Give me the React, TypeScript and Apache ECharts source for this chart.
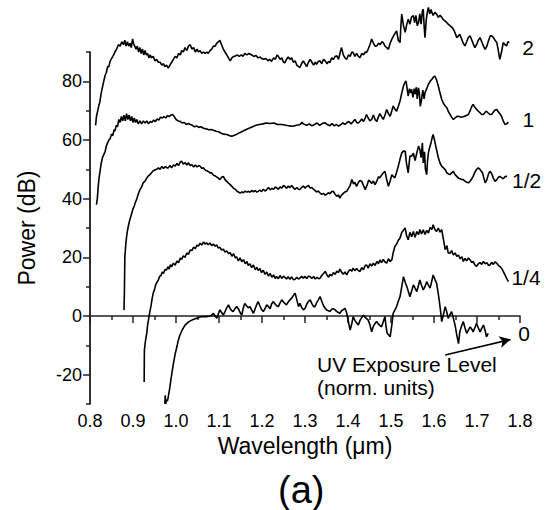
import React, { useEffect, useRef } from "react";
import * as echarts from "echarts";

const FONT = "'Liberation Sans', Arial, Helvetica, sans-serif";

const xTicks = { min: 0.8, max: 1.8, step: 0.1 };
const yMajorTicks = [-20, 0, 20, 40, 60, 80];
const yMinorTicks = [-30, -10, 10, 30, 50, 70, 90];

const seriesNames = ["2", "1", "1/2", "1/4", "0"];

const curve2: number[][] = [
  [0.813,65],[0.815,68],[0.818,70],[0.821,72],[0.823,73],[0.826,76],[0.829,78],[0.832,80],[0.835,82],[0.838,83],[0.841,85],[0.844,85],[0.847,87],[0.851,88],[0.855,89],[0.858,90],[0.862,91],[0.866,92.5],[0.870,92],[0.874,93.5],[0.878,92.5],[0.881,94],[0.884,92],[0.887,93.5],[0.890,92],[0.893,93],[0.896,91.5],[0.899,94.5],[0.901,93],[0.904,92],[0.907,91],[0.910,92],[0.913,90],[0.916,91.5],[0.919,89.5],[0.922,91],[0.925,89],[0.928,90.5],[0.931,89],[0.934,89.5],[0.937,88],[0.940,89],[0.943,88],[0.947,88.5],[0.951,87],[0.955,87.5],[0.959,86.5],[0.963,86.5],[0.967,85.5],[0.971,86],[0.974,85],[0.978,85.5],[0.982,84.5],[0.986,85.5],[0.990,86.5],[0.994,87.5],[0.998,88.5],[1.002,88],[1.006,89.5],[1.010,89],[1.013,90.5],[1.017,90],[1.021,91.5],[1.025,90.5],[1.029,92],[1.033,92.5],[1.037,91],[1.041,91.5],[1.045,90],[1.049,91],[1.052,90],[1.056,90.5],[1.060,89.5],[1.064,90],[1.068,89.5],[1.072,90],[1.075,89.5],[1.079,90.5],[1.083,91],[1.087,92],[1.091,92],[1.095,93],[1.099,93.5],[1.102,94],[1.106,92.5],[1.110,91],[1.114,90],[1.118,89],[1.122,88],[1.126,87],[1.130,88],[1.134,88.5],[1.137,88.5],[1.142,89],[1.147,88.5],[1.152,89],[1.156,88.5],[1.160,89.5],[1.165,89],[1.170,89.5],[1.176,89],[1.181,88.5],[1.186,88.8],[1.191,88],[1.196,88.3],[1.199,87.8],[1.204,87.5],[1.209,87.8],[1.214,87],[1.218,87.5],[1.222,86.8],[1.227,88],[1.231,87.5],[1.235,89],[1.238,88.5],[1.242,87.5],[1.246,88],[1.250,86.5],[1.253,86.3],[1.257,87.5],[1.261,88.3],[1.265,87.5],[1.269,88],[1.273,86.5],[1.277,87],[1.281,85.5],[1.285,85],[1.288,84.7],[1.292,86],[1.296,87],
  [1.300,86],[1.304,85],[1.308,86.5],[1.312,87.5],[1.316,86.5],[1.320,85.5],[1.324,86.5],[1.327,85.8],[1.331,86.8],[1.335,87],[1.339,86],[1.343,87.5],[1.347,87],[1.351,86],[1.355,86.8],[1.358,86.4],[1.362,88],[1.366,87.5],[1.370,88.5],[1.374,88.7],[1.378,87.5],[1.382,90],[1.385,91.5],[1.389,89],[1.393,88],[1.397,87.5],[1.401,89],[1.405,88.5],[1.409,90],[1.412,89.8],[1.416,88.5],[1.420,89.5],[1.424,88.5],[1.428,88.1],[1.432,89.5],[1.436,89],[1.440,90],[1.443,89.8],[1.447,91],[1.451,92.5],[1.455,94.4],[1.459,93],[1.463,92],[1.467,92.1],[1.471,93],[1.475,92.5],[1.479,93.5],[1.482,93.2],[1.486,92],[1.490,91.5],[1.494,90.9],[1.498,93],[1.502,94.4],[1.506,95.5],[1.510,96.5],[1.513,97.2],[1.517,94],[1.521,93.2],[1.523,99],[1.525,102.9],[1.529,99],[1.533,96.7],[1.536,99],[1.540,101.2],[1.544,99.5],[1.548,102],[1.552,102.4],[1.555,100],[1.558,102.5],[1.561,99],[1.564,100],[1.567,103],[1.570,99.5],[1.573,104],[1.575,104.6],[1.577,99],[1.579,94.9],[1.582,101],[1.585,104],[1.587,105.2],[1.590,103],[1.593,104.5],[1.595,103.5],[1.598,102.5],[1.602,103.5],[1.606,102.9],[1.610,101.8],[1.614,102.5],[1.618,101.8],[1.622,101],[1.626,100.5],[1.630,100],[1.633,99.5],[1.637,99],[1.641,98.5],[1.645,97.8],[1.649,96.5],[1.653,94.9],[1.657,95.5],[1.660,96],[1.664,94.5],[1.668,93],[1.672,92.1],[1.676,93.5],[1.680,95],[1.684,95.5],[1.688,94],[1.692,92.5],[1.695,91.5],[1.699,92.5],[1.703,94],[1.707,94.9],[1.711,93.5],[1.715,92],[1.719,90.9],[1.723,92],[1.727,94],[1.731,95.5],[1.734,95.5],[1.738,95],[1.742,94],[1.746,93.2],[1.749,91],[1.753,87.5],[1.757,90],[1.761,93.2],[1.765,92.5],[1.769,92.1],[1.772,93.5],[1.775,93.2]
];

const curve1: number[][] = [
  [0.815,38],[0.817,40],[0.819,44],[0.821,47],[0.823,49],[0.826,52],[0.829,54],[0.832,55],[0.835,56],[0.838,58],[0.841,59],[0.844,60],[0.847,60.5],[0.850,62],[0.853,61.5],[0.856,63.5],[0.858,63],[0.861,65],[0.864,64.5],[0.867,67],[0.870,66],[0.873,68],[0.876,66.5],[0.879,68.5],[0.882,66.5],[0.885,69],[0.888,67],[0.891,68.5],[0.894,66.5],[0.897,68],[0.900,66],[0.903,67.5],[0.906,66],[0.909,67],[0.912,65.5],[0.916,66.5],[0.920,65.5],[0.924,66.5],[0.928,65.8],[0.932,66.5],[0.936,65.5],[0.940,66.3],[0.944,66],[0.948,66.8],[0.952,66.3],[0.956,67.2],[0.960,66.8],[0.964,67.8],[0.968,67.5],[0.972,68],[0.976,67.5],[0.980,68.3],[0.984,68],[0.988,68.5],[0.992,68.7],[0.996,68],[1.000,67],[1.005,66.5],[1.009,66.4],[1.014,65.8],[1.019,66],[1.024,65.3],[1.029,65.6],[1.033,65.3],[1.038,65],[1.043,64.5],[1.048,64.8],[1.053,64.3],[1.058,64.5],[1.064,64],[1.070,63.8],[1.076,63.5],[1.082,63.6],[1.087,63.3],[1.093,63],[1.099,62.8],[1.105,62.3],[1.111,62],[1.118,61.9],[1.124,61.5],[1.130,61.3],[1.136,61.6],[1.142,62],[1.148,62.5],[1.155,63],[1.162,63.5],[1.170,64],[1.178,64.5],[1.186,65],[1.194,65.3],[1.202,65.5],[1.210,65.8],[1.219,65.6],[1.228,65.8],[1.236,65.3],[1.246,65.3],[1.256,65],[1.264,64.8],[1.272,64.7],[1.280,65],[1.288,65.2],[1.293,66],[1.296,65.5],[1.304,65],[1.310,65.5],[1.316,64.8],[1.322,65.3],[1.328,65.8],[1.334,65],[1.340,65.6],[1.346,65.9],[1.352,65.2],[1.358,64.9],[1.363,65.6],[1.368,64.8],[1.373,65.3],[1.378,64.7],[1.383,65.2],[1.388,65.8],[1.393,65.3],[1.397,65.9],[1.402,66.3],[1.407,65.5],[1.412,66.3],[1.416,67],[1.420,66],[1.424,65.8],[1.428,66.4],[1.432,67.2],[1.436,66.3],[1.440,67.5],[1.443,68.7],[1.447,67.5],[1.451,66.5],[1.455,67],[1.459,68.5],[1.463,67],[1.467,66.3],[1.470,67.6],[1.474,69],[1.478,68],[1.482,67],[1.486,68.5],[1.490,70.4],[1.494,69],[1.498,68.1],[1.502,70],[1.505,71.6],[1.509,70.5],[1.513,69.8],[1.517,71.5],[1.521,73.3],[1.525,76],[1.529,78.4],[1.532,79.5],[1.535,80.1],[1.538,77],[1.540,75],[1.543,77.5],[1.546,76],[1.548,77.3],[1.551,74.5],[1.554,77.5],[1.556,75.6],[1.559,78],[1.561,74],[1.564,77.8],[1.566,76],[1.568,71.5],[1.571,73.8],[1.574,77],[1.577,74],[1.579,76.1],[1.583,77.5],[1.587,79],[1.591,80],[1.595,80.7],[1.599,81.5],[1.602,81.8],[1.606,80.5],[1.610,78.4],[1.614,76],[1.618,73.8],[1.622,72.5],[1.626,71.6],[1.630,71],[1.633,69.8],[1.637,68.8],[1.641,67.8],[1.645,67],[1.649,67.5],[1.653,68],[1.657,68.1],[1.662,67.8],[1.668,67.9],[1.674,68.3],[1.680,68.7],[1.684,70],[1.688,71.5],[1.691,72.1],[1.695,71.2],[1.699,70.5],[1.703,69.8],[1.707,69.3],[1.711,68.7],[1.715,68.7],[1.719,69.5],[1.722,69.8],[1.726,69.2],[1.730,68.7],[1.734,68.7],[1.738,69.5],[1.742,70.2],[1.746,70.4],[1.750,69.5],[1.754,68.8],[1.757,68.1],[1.761,66.5],[1.765,65.3],[1.769,65.5],[1.773,66.1]
];

const curveHalf: number[][] = [
  [0.879,2],[0.880,8],[0.8805,14],[0.881,20],[0.883,24],[0.885,27],[0.887,29],[0.889,30.5],[0.892,32.5],[0.895,34],[0.897,35],[0.900,36.5],[0.903,37.5],[0.905,38.5],[0.909,40],[0.912,41.5],[0.916,43],[0.920,44],[0.924,45.5],[0.928,46],[0.932,47],[0.936,47.8],[0.940,48.3],[0.943,48.8],[0.947,49.5],[0.951,49.8],[0.955,50],[0.959,50.5],[0.963,50],[0.967,51],[0.971,50.3],[0.975,51],[0.979,50.5],[0.982,50.5],[0.986,51.3],[0.990,50.5],[0.994,51.5],[0.998,51.1],[1.002,52],[1.006,51.3],[1.010,52.5],[1.013,52.8],[1.017,51.8],[1.021,52.3],[1.025,51.5],[1.029,52.2],[1.033,51.3],[1.037,51.6],[1.041,50.8],[1.045,51.5],[1.049,50.8],[1.053,51.3],[1.056,51.1],[1.060,50.3],[1.064,50.5],[1.067,49.9],[1.071,49.5],[1.075,49.3],[1.079,48.8],[1.083,48.8],[1.087,48],[1.091,47.8],[1.095,47.3],[1.098,47.1],[1.102,46.5],[1.106,47.3],[1.110,47.6],[1.114,46.5],[1.118,45.9],[1.122,45.3],[1.126,44.8],[1.130,44.2],[1.134,43.5],[1.138,43.2],[1.142,42.5],[1.146,42.2],[1.149,41.9],[1.153,42.3],[1.157,42],[1.161,42.6],[1.165,42.2],[1.168,42.5],[1.172,42.2],[1.176,42.8],[1.180,42.3],[1.184,42.8],[1.188,42.2],[1.191,42.5],[1.195,42.9],[1.199,42.4],[1.203,43.2],[1.207,42.6],[1.211,43.1],[1.215,43.8],[1.219,43],[1.223,43.5],[1.227,43.2],[1.231,44],[1.234,43.7],[1.238,43.2],[1.242,44],[1.246,43.6],[1.250,44.5],[1.253,44.2],[1.257,43.5],[1.261,44.3],[1.265,43.8],[1.269,44.5],[1.273,43.7],[1.277,43.2],[1.281,43.8],[1.285,43.2],[1.288,43.1],[1.292,43.8],[1.296,44.3],[1.300,43.6],[1.304,44.2],[1.308,44.5],[1.312,43.6],[1.316,43.8],[1.319,43.3],[1.323,42.8],[1.327,42.3],[1.331,42.6],[1.335,41.9],[1.339,41.5],[1.343,41.8],[1.347,41.2],[1.350,41.4],[1.354,42],[1.358,41.7],[1.362,42.4],[1.366,42.5],[1.370,41.5],[1.374,40.8],[1.378,41.3],[1.381,40.2],[1.385,41.2],[1.389,41.8],[1.393,42.3],[1.397,42.5],[1.401,43.5],[1.405,44.5],[1.409,46.5],[1.413,45],[1.416,45.6],[1.420,44.2],[1.424,45.5],[1.428,46.2],[1.432,45.9],[1.436,44.5],[1.440,43.1],[1.444,44.5],[1.448,46.3],[1.451,45.9],[1.455,45.2],[1.459,46],[1.463,44.8],[1.467,46],[1.471,47.5],[1.474,47.1],[1.478,48],[1.482,48.8],[1.486,49.3],[1.490,46.5],[1.494,44.2],[1.498,46],[1.502,48.2],[1.505,47.6],[1.509,47.1],[1.513,49],[1.517,51.1],[1.521,53.5],[1.525,55.6],[1.529,56.2],[1.533,56.2],[1.536,52],[1.540,48.8],[1.544,54.5],[1.548,54.5],[1.552,55.5],[1.556,53],[1.560,55.6],[1.564,57.9],[1.567,56.8],[1.570,54],[1.573,59],[1.575,52.2],[1.578,56],[1.580,50],[1.583,48.2],[1.585,53],[1.587,55.6],[1.590,57.5],[1.593,59],[1.596,61],[1.598,61.9],[1.601,60],[1.604,58],[1.607,56],[1.610,54],[1.614,52.2],[1.618,51],[1.622,50.5],[1.626,49.9],[1.630,48.8],[1.633,48.5],[1.637,48.2],[1.641,48.8],[1.645,49.3],[1.649,48.2],[1.653,47.6],[1.657,47],[1.661,46.8],[1.665,46.5],[1.668,46.5],[1.672,46],[1.676,45.6],[1.680,45.4],[1.684,46],[1.688,46.8],[1.691,47.6],[1.695,49],[1.699,50],[1.703,50.5],[1.707,50],[1.710,49.3],[1.713,48.8],[1.716,47],[1.719,45.4],[1.723,46.5],[1.727,48.5],[1.730,49.3],[1.734,48.6],[1.738,47],[1.742,45.9],[1.746,46.5],[1.750,47.3],[1.753,47.6],[1.757,47.2],[1.761,46.8],[1.765,47.5],[1.770,47.6]
];

const curveQuarter: number[][] = [
  [0.926,-22.5],[0.9262,-17],[0.9265,-11.6],[0.929,-8.5],[0.932,-5.9],[0.934,-3],[0.937,-0.5],[0.940,2.1],[0.942,3.5],[0.944,5.5],[0.947,7.8],[0.950,9],[0.953,10.8],[0.956,11.5],[0.959,12.3],[0.962,13.5],[0.965,13.8],[0.968,15],[0.971,14.5],[0.974,15.8],[0.978,15.7],[0.981,16.8],[0.984,16],[0.987,17.5],[0.990,16.8],[0.994,18],[0.998,17.3],[1.002,18.7],[1.006,18.2],[1.010,19.8],[1.013,19.3],[1.017,20.5],[1.021,20],[1.025,21.5],[1.029,21],[1.033,22.5],[1.037,22.3],[1.041,23.5],[1.045,23],[1.049,24.2],[1.052,23.8],[1.056,24.8],[1.060,24.2],[1.064,25.2],[1.068,24.5],[1.071,25],[1.075,24.3],[1.079,24.9],[1.083,24],[1.087,24.5],[1.091,23.8],[1.095,24.2],[1.098,23.2],[1.102,23.4],[1.106,22.5],[1.110,22.8],[1.114,21.8],[1.118,22.2],[1.122,21.3],[1.126,21.6],[1.130,20.4],[1.134,21.2],[1.138,19.8],[1.141,20.2],[1.145,18.8],[1.149,19.8],[1.153,18.5],[1.157,19.2],[1.161,17.8],[1.165,18.6],[1.168,17.2],[1.172,17.8],[1.176,16.5],[1.180,17.4],[1.184,15.8],[1.188,16.6],[1.191,15.5],[1.195,16.2],[1.199,14.8],[1.203,15.6],[1.207,14.2],[1.211,15],[1.215,13.6],[1.219,14.5],[1.223,13.2],[1.227,14],[1.231,12.8],[1.234,13.5],[1.238,12.7],[1.242,13.8],[1.246,12.8],[1.250,13.6],[1.253,13.2],[1.257,12.6],[1.261,13.4],[1.265,12.5],[1.269,13.3],[1.273,12.4],[1.277,12.5],[1.281,13.2],[1.285,12.6],[1.288,12.9],[1.292,13.5],[1.296,12.9],[1.300,13.5],[1.304,12.8],[1.308,13.6],[1.312,13.4],[1.316,12.8],[1.320,13.5],[1.324,12.6],[1.328,13.2],[1.332,12.7],[1.335,12.9],[1.339,13.8],[1.343,14.5],[1.347,15.2],[1.351,14],[1.355,13.2],[1.358,14.2],[1.362,13.7],[1.366,14.8],[1.370,14.2],[1.374,15.3],[1.378,14.8],[1.381,16],[1.385,15],[1.389,14.2],[1.393,15],[1.397,14],[1.401,15.2],[1.405,15.8],[1.409,15.3],[1.412,16.3],[1.416,15.4],[1.420,16.2],[1.424,15.5],[1.428,15.2],[1.432,16.5],[1.436,15.8],[1.440,17.2],[1.443,17.4],[1.447,16.3],[1.451,17.8],[1.455,17],[1.459,18],[1.463,17.2],[1.467,18.6],[1.471,17.8],[1.474,19.1],[1.478,18.2],[1.482,19.3],[1.486,18.4],[1.490,18],[1.494,19.5],[1.498,18.6],[1.502,19.1],[1.505,21.5],[1.509,23.7],[1.513,24.5],[1.517,25.8],[1.521,26.6],[1.525,28.5],[1.529,29.2],[1.533,30],[1.536,27.5],[1.540,26],[1.544,28.5],[1.548,27],[1.552,28.8],[1.556,26.8],[1.560,28.8],[1.564,27.7],[1.567,29.5],[1.571,28],[1.575,29.4],[1.579,27.8],[1.583,29.2],[1.587,28.3],[1.591,30.2],[1.595,29.5],[1.598,31.1],[1.602,29.5],[1.606,28.8],[1.610,30],[1.614,28.6],[1.618,29.4],[1.622,26],[1.626,22.6],[1.630,24],[1.633,21.5],[1.637,21.4],[1.641,22.3],[1.645,20.8],[1.649,21.5],[1.653,20.3],[1.657,20.8],[1.661,19.5],[1.665,20.2],[1.668,18.6],[1.672,19.6],[1.676,18.8],[1.680,19.8],[1.684,19.1],[1.688,18.2],[1.691,18.6],[1.695,17.4],[1.699,16.9],[1.703,17.8],[1.707,18.2],[1.711,17.6],[1.715,18.6],[1.719,17.8],[1.723,18.2],[1.727,17.2],[1.730,17.4],[1.734,18.3],[1.738,17.6],[1.742,18.4],[1.746,18],[1.750,17.2],[1.754,16.8],[1.757,16.3],[1.761,15.2],[1.765,14],[1.769,12.8],[1.773,11.7]
];

const curve0: number[][] = [
  [0.974,-29.9],[0.975,-27],[0.976,-30],[0.978,-28.5],[0.980,-29],[0.982,-27.6],[0.985,-25],[0.988,-21.9],[0.991,-19],[0.994,-16.2],[0.998,-13],[1.002,-10.5],[1.005,-8.5],[1.009,-6.5],[1.015,-4.6],[1.021,-3.1],[1.029,-2],[1.037,-1.4],[1.048,-0.8],[1.060,-0.2],[1.070,-0.2],[1.079,0],[1.083,0.3],[1.087,0.9],[1.091,0],[1.095,-0.8],[1.098,0.5],[1.102,2.1],[1.106,1.2],[1.110,0.3],[1.114,1.5],[1.118,2.8],[1.122,3.8],[1.126,2.5],[1.130,1.8],[1.133,1.5],[1.137,2.5],[1.141,3.2],[1.145,2.5],[1.149,1.2],[1.153,0.3],[1.156,2.5],[1.160,4.3],[1.164,3.5],[1.168,2.8],[1.172,3.2],[1.176,2],[1.180,0.9],[1.184,2.5],[1.188,4],[1.191,4.9],[1.195,3.5],[1.199,2.2],[1.203,1.5],[1.207,2.5],[1.211,3.8],[1.215,3.2],[1.219,2.5],[1.222,4],[1.226,4.9],[1.230,4.2],[1.234,3.5],[1.238,3.2],[1.242,4.5],[1.246,5.5],[1.250,4.8],[1.253,4.3],[1.257,3.8],[1.261,4.8],[1.265,5.5],[1.269,6.1],[1.273,7],[1.277,7.8],[1.281,5.5],[1.285,3.2],[1.288,4.3],[1.292,3],[1.296,2.1],[1.300,2.6],[1.304,4],[1.308,5],[1.312,5.5],[1.316,4.2],[1.320,3.2],[1.323,3.2],[1.327,4.5],[1.331,5.5],[1.335,6.6],[1.339,5],[1.343,3.5],[1.347,2.6],[1.351,2],[1.355,1.8],[1.358,1.5],[1.362,2.3],[1.366,2.5],[1.370,2.1],[1.374,1.5],[1.378,1.2],[1.381,0.9],[1.385,1.8],[1.389,2.2],[1.393,2.6],[1.397,1],[1.401,-2],[1.405,-4.8],[1.409,-2.5],[1.412,-0.2],[1.416,-1.5],[1.420,-2.3],[1.424,-3.1],[1.428,-1.5],[1.432,-0.5],[1.436,0.3],[1.440,-0.5],[1.444,-1],[1.447,-1.4],[1.451,-3],[1.455,-5.4],[1.459,-3.5],[1.463,-2.5],[1.467,-1.9],[1.471,-2.8],[1.474,-3.2],[1.478,-3.7],[1.482,-2],[1.486,-0.2],[1.488,-3],[1.491,-5.9],[1.495,-6.5],[1.498,-7.1],[1.502,-3],[1.505,0.9],[1.509,2],[1.513,3.2],[1.517,5],[1.521,6.6],[1.525,10],[1.529,13.4],[1.533,11.5],[1.537,10],[1.540,8.5],[1.544,6.6],[1.548,8.5],[1.552,10.6],[1.556,9.5],[1.560,8.3],[1.564,10.5],[1.567,12.3],[1.571,10.5],[1.575,8.9],[1.579,10],[1.583,11.7],[1.587,10.5],[1.591,9.5],[1.595,12],[1.598,14],[1.602,12.5],[1.606,11.2],[1.609,8.5],[1.612,5.5],[1.615,2],[1.618,-1.9],[1.622,0.5],[1.626,3.2],[1.630,1.2],[1.633,-0.8],[1.637,0.5],[1.641,1.5],[1.645,-0.8],[1.649,-3.1],[1.653,-6.5],[1.657,-9.4],[1.660,-5.4],[1.664,-3.5],[1.668,-1.9],[1.672,-4],[1.676,-5.9],[1.680,-4.8],[1.684,-3.7],[1.688,-4.5],[1.691,-5.4],[1.695,-4],[1.699,-2.5],[1.703,-4],[1.707,-5.4],[1.711,-4.2],[1.715,-3.1],[1.719,-5],[1.722,-7.1],[1.726,-5.9]
];

const curves = [curve2, curve1, curveHalf, curveQuarter, curve0];

// Arrow from the annotation to the "0" curve label (data coordinates)
const arrowStart = [1.626, -13.3];
const arrowEnd = [1.778, -8.0];

const annotationLines = ["UV Exposure Level", "(norm. units)"];
const panelLabel = "(a)";

// label offsets [dx, dy] relative to each curve end
const labelOffsets = [
  [8, 5],
  [9, -3],
  [0, 4],
  [-2, -4],
  [25, 0],
];

export default function App() {
  const ref = useRef<HTMLDivElement>(null);

  useEffect(() => {
    if (!ref.current) return;
    const chart = echarts.init(ref.current, undefined, { renderer: "svg" });
    const axisColor = "#222";

    const series: any[] = curves.map((data, i) => ({
      name: seriesNames[i],
      type: "line",
      data,
      showSymbol: false,
      symbol: "none",
      clip: false,
      xAxisIndex: 0,
      yAxisIndex: 0,
      lineStyle: { color: "#000", width: 1.6 },
      emphasis: { disabled: true },
      endLabel: {
        show: true,
        formatter: "{a}",
        fontSize: 21,
        color: "#000",
        fontFamily: FONT,
        distance: 5,
        offset: labelOffsets[i],
      },
      markLine:
        i === curves.length - 1
          ? {
              silent: true,
              symbol: ["none", "arrow"],
              symbolSize: [9, 11],
              label: { show: false },
              lineStyle: { color: "#000", width: 1.6, type: "solid" },
              data: [[{ coord: arrowStart }, { coord: arrowEnd }]],
            }
          : undefined,
    }));

    chart.setOption({
      animation: false,
      backgroundColor: "#fff",
      textStyle: { fontFamily: FONT },
      grid: { left: 90, right: 29, top: 52, bottom: 106, containLabel: false },
      xAxis: [
        {
          type: "value",
          min: xTicks.min,
          max: xTicks.max,
          interval: xTicks.step,
          name: "Wavelength (μm)",
          nameLocation: "middle",
          nameGap: 26,
          nameTextStyle: { fontSize: 23, color: "#000", fontFamily: FONT },
          axisLine: { show: true, lineStyle: { color: axisColor, width: 1.5 } },
          axisTick: { show: true, length: 7, lineStyle: { color: axisColor, width: 1.5 } },
          minorTick: { show: true, splitNumber: 2, length: 4, lineStyle: { color: axisColor, width: 1.5 } },
          axisLabel: {
            formatter: (v: number) => v.toFixed(1),
            fontSize: 18,
            color: "#000",
            margin: 8,
            fontFamily: FONT,
          },
          splitLine: { show: false },
          minorSplitLine: { show: false },
        },
      ],
      yAxis: [
        {
          type: "value",
          min: -30,
          max: 90,
          interval: 10,
          position: "left",
          name: "Power (dB)",
          nameLocation: "middle",
          nameGap: 52,
          nameTextStyle: { fontSize: 23, color: "#000", fontFamily: FONT },
          axisLine: { show: true, lineStyle: { color: axisColor, width: 1.5 } },
          axisTick: {
            show: true,
            length: 7,
            customValues: yMajorTicks,
            lineStyle: { color: axisColor, width: 1.5 },
          },
          axisLabel: {
            customValues: yMajorTicks,
            fontSize: 18,
            color: "#000",
            margin: 8,
            fontFamily: FONT,
          },
          splitLine: { show: false },
        },
        {
          type: "value",
          min: -30,
          max: 90,
          interval: 10,
          position: "left",
          offset: 0,
          axisLine: { show: true, lineStyle: { color: axisColor, width: 1.5 } },
          axisTick: {
            show: true,
            length: 4,
            customValues: yMinorTicks,
            lineStyle: { color: axisColor, width: 1.5 },
          },
          axisLabel: { show: false },
          splitLine: { show: false },
        },
      ],
      graphic: [
        {
          type: "text",
          left: 317,
          top: 354,
          style: { text: annotationLines[0], fontSize: 21, fill: "#000", fontFamily: FONT },
        },
        {
          type: "text",
          left: 317,
          top: 377,
          style: { text: annotationLines[1], fontSize: 21, fill: "#000", fontFamily: FONT },
        },
        {
          type: "text",
          left: 278,
          top: 471,
          style: { text: panelLabel, fontSize: 38, fill: "#000", fontFamily: FONT },
        },
      ],
      series,
    });

    return () => chart.dispose();
  }, []);

  return (
    <div
      ref={ref}
      style={{ position: "fixed", left: 0, top: 0, width: 549, height: 510, background: "#fff" }}
    />
  );
}
